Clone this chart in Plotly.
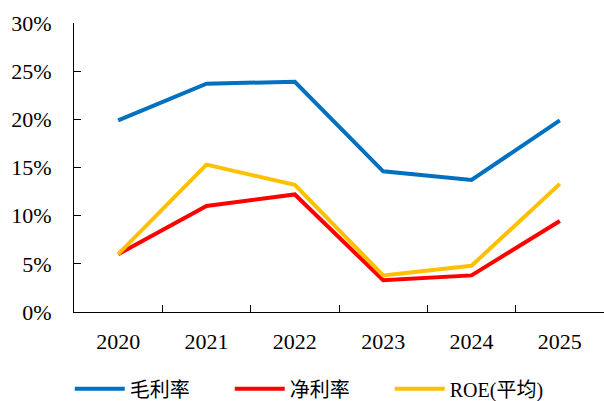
import plotly.graph_objects as go

years = ["2020", "2021", "2022", "2023", "2024", "2025"]
gross_margin = [19.9, 23.7, 23.9, 14.6, 13.7, 19.9]
net_margin = [6.0, 11.0, 12.2, 3.3, 3.8, 9.45]
roe_avg = [6.0, 15.3, 13.2, 3.8, 4.8, 13.3]
y_ticks = [0, 5, 10, 15, 20, 25, 30]
y_tick_labels = [f"{v}%" for v in y_ticks]

series = [
    ("毛利率", gross_margin, "#0070C0"),
    ("净利率", net_margin, "#FF0000"),
    ("ROE(平均)", roe_avg, "#FFC000"),
]

fig = go.Figure()
for name, vals, col in series:
    fig.add_trace(go.Scatter(x=years, y=vals, mode="lines", name=name,
                             line=dict(color=col, width=4)))

serif = "Liberation Serif, Times New Roman, serif"
fig.update_layout(
    width=604, height=401,
    margin=dict(l=74, r=0, t=23, b=89, autoexpand=False),
    plot_bgcolor="white", paper_bgcolor="white",
    font=dict(family=serif, size=22, color="black"),
    showlegend=True,
    legend=dict(orientation="h", x=-0.008, xanchor="left", y=-0.198, yanchor="top",
                font=dict(family="Liberation Serif, Noto Sans CJK SC", size=20),
                entrywidth=95, entrywidthmode="pixels", traceorder="normal",
                itemwidth=50),
    xaxis=dict(type="category", range=[-0.5, 5.5], showline=True, linecolor="black",
               linewidth=1, ticks="inside", ticklen=7, tickcolor="black",
               tickson="boundaries", showgrid=False, zeroline=False,
               ticklabelstandoff=10),
    yaxis=dict(range=[0, 30], tickvals=y_ticks, ticktext=y_tick_labels,
               showline=True, linecolor="black", linewidth=1, ticks="inside",
               ticklen=7, tickcolor="black", showgrid=False, zeroline=False,
               ticklabelstandoff=17),
)

fig.write_html("out.html", config={"displayModeBar": False},
               post_script="document.body.style.margin='0';")
